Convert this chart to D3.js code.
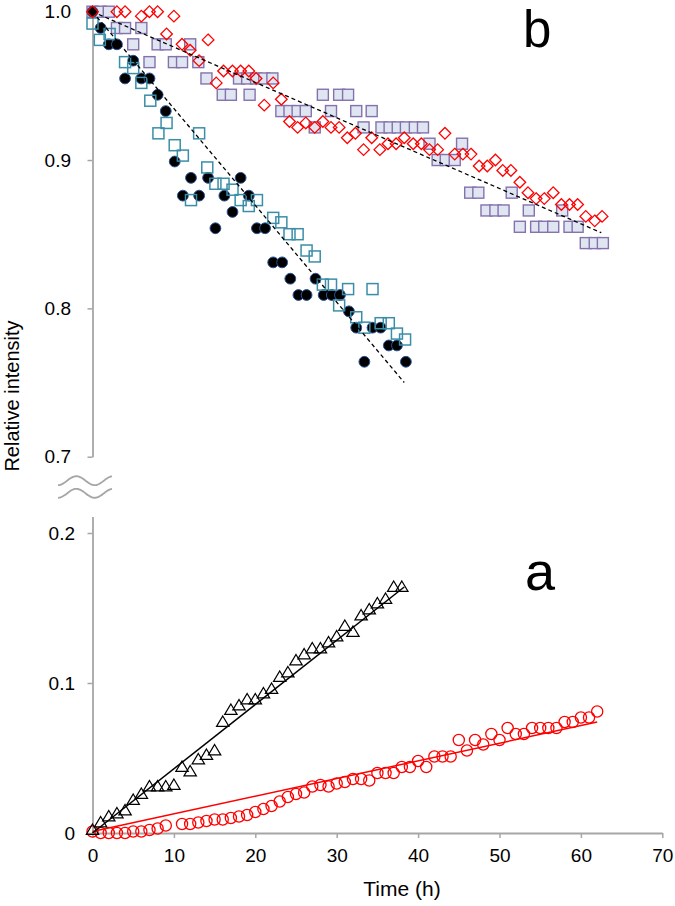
<!DOCTYPE html>
<meta charset='utf-8'>
<style>
  body { margin: 0; background: #fff; }
  svg text { font-family: 'Liberation Sans', Arial, sans-serif; fill: #000; }
</style>
<svg width='675' height='906'></svg>
<script src='https://cdn.jsdelivr.net/npm/d3@7'></script>
<script>
  // ---- panel b (top): relative intensity, decreasing ----
  var circTimes = [0,1,2,3,4,5,6,7,8,9,10.1,11.1,12.1,13.1,14.2,15.1,16.2,17.2,18.2,19.2,20.2,21.2,22.2,23.3,24.3,25.3,26.3,27.4,28.4,29.4,30.4,31.5,32.4,33.4,34.4,35.4,36.4,37.4,38.5];
  var circVals  = [1.000,0.989,0.978,0.978,0.955,0.967,0.955,0.955,0.944,0.933,0.899,0.876,0.888,0.876,0.888,0.854,0.876,0.865,0.888,0.876,0.854,0.854,0.831,0.831,0.820,0.809,0.809,0.820,0.809,0.809,0.809,0.798,0.787,0.764,0.787,0.787,0.775,0.775,0.764];

  var tealTimes = [0,0.9,2.1,4,5,6,7.1,8.1,9.1,10.1,11.1,12.1,13.1,14.1,15.1,16.1,17.2,18.2,19.2,20.2,22.2,23.2,24.2,25.2,26.3,27.3,28.3,29.3,30.3,31.4,32.4,33.4,34.4,35.4,36.4,37.4,38.4];
  var tealVals  = [0.992,0.981,0.985,0.966,0.962,0.952,0.940,0.918,0.925,0.910,0.903,0.873,0.918,0.895,0.884,0.884,0.880,0.873,0.869,0.873,0.861,0.858,0.850,0.850,0.839,0.835,0.816,0.816,0.802,0.813,0.794,0.787,0.813,0.790,0.790,0.783,0.779];

  var lavTimes = [0,1,2,3,4,5,6,7,8,9,10,11,12,13,14,16,17,18,19,19.3,20.1,21.1,22.1,23.2,24.2,25.2,26.2,27.3,28.3,29.3,30.3,31.4,32.4,33.3,34.3,35.5,36.5,37.5,38.5,39.6,40.6,41.4,42.4,43.4,44.5,45.4,46.4,47.4,48.4,49.5,50.5,51.5,52.5,53.6,54.5,55.5,56.6,57.7,58.6,59.6,60.6,61.7,62.7];
  var lavVals  = [1.0,1.0,1.0,0.989,0.989,0.978,0.989,0.966,0.978,0.978,0.966,0.966,0.978,0.966,0.955,0.944,0.944,0.955,0.955,0.944,0.955,0.955,0.955,0.933,0.933,0.933,0.933,0.922,0.944,0.933,0.944,0.944,0.933,0.922,0.933,0.922,0.922,0.922,0.922,0.922,0.922,0.911,0.900,0.900,0.900,0.911,0.878,0.878,0.866,0.866,0.866,0.878,0.855,0.866,0.855,0.855,0.855,0.866,0.855,0.855,0.844,0.844,0.844];

  var diaTimes = [0,3,4,6,7,8,9.1,10,11,12,13.1,14.2,15.2,16.1,17.2,18.2,19.2,20.1,21.1,22.2,23.2,24.2,25.2,26.2,27.3,28.3,29.3,30.3,31.3,32.3,33.3,34.3,35.3,36.3,37.3,38.3,39.4,40.4,41.4,42.4,43.3,44.5,45.5,46.5,47.5,48.5,49.5,50.4,51.4,52.5,53.5,54.5,55.5,56.6,57.6,58.6,59.6,60.6,61.7,62.6];
  var diaVals  = [1.0,1.0,1.0,0.997,1.0,1.0,0.985,0.997,0.978,0.974,0.967,0.981,0.952,0.960,0.960,0.960,0.960,0.955,0.937,0.952,0.941,0.926,0.922,0.925,0.922,0.926,0.922,0.922,0.915,0.918,0.907,0.915,0.907,0.911,0.911,0.915,0.911,0.911,0.907,0.907,0.918,0.904,0.904,0.904,0.896,0.896,0.900,0.893,0.893,0.885,0.878,0.874,0.874,0.878,0.870,0.870,0.870,0.862,0.859,0.862];

  var fitFastT = [0, 38.3], fitFastV = [1.0, 0.750];
  var fitSlowT = [0, 62.5], fitSlowV = [1.0, 0.851];

  // ---- panel a (bottom): increasing ----
  var triTimes = d3.range(0, 39);
  var triVals  = [0.002,0.007,0.011,0.013,0.015,0.022,0.026,0.031,0.031,0.031,0.032,0.044,0.041,0.049,0.052,0.055,0.074,0.082,0.085,0.089,0.089,0.093,0.096,0.104,0.107,0.115,0.119,0.123,0.123,0.127,0.131,0.138,0.134,0.145,0.149,0.153,0.156,0.164,0.164];

  var ringTimes = [0,1,2,3,4,5,6,7,8,9,11,12,13,14,15,16,17,18,19,20,21,22,23,24,25,26,27,28,29,30,31,32,33,34,35,36,37,38,39,40,41,42,43,44,45,46,47,48,49,50,51,52,53,54,55,56,57,58,59,60,61,62];
  var ringVals  = [0.001,0.000,0.000,0.000,0.000,0.001,0.001,0.002,0.003,0.005,0.006,0.006,0.007,0.008,0.009,0.009,0.010,0.011,0.012,0.014,0.016,0.018,0.021,0.024,0.026,0.027,0.031,0.032,0.031,0.033,0.034,0.036,0.036,0.035,0.040,0.040,0.040,0.044,0.044,0.048,0.044,0.051,0.051,0.051,0.062,0.055,0.062,0.059,0.066,0.062,0.070,0.066,0.066,0.070,0.070,0.070,0.070,0.074,0.074,0.077,0.077,0.081];

  var fitTriT = [0, 38.3], fitTriV = [0, 0.164];
  var fitRingT = [0, 62], fitRingV = [0.001, 0.074];

  var xTicks = d3.range(0, 71, 10);
  var topTicks = [0.7, 0.8, 0.9, 1.0];
  var botTicks = [0, 0.1, 0.2];

  var svg = d3.select('svg');
  var grey = '#a6a6a6';

  var x = d3.scaleLinear().domain([0, 70]).range([92.5, 662.3]);
  var yTop = d3.scaleLinear().domain([0.7, 1.0]).range([456.7, 11.7]);
  var yBot = d3.scaleLinear().domain([0, 0.211]).range([833, 516.5]);

  function zip(t, v) { return t.map((d, i) => ({t: d, v: v[i]})); }

  function styleAxis(g) {
    g.select('.domain').attr('stroke', grey).attr('stroke-width', 1.8);
    g.selectAll('.tick line').attr('stroke', grey).attr('stroke-width', 1.5);
    g.selectAll('.tick text').attr('font-size', 19).attr('fill', '#000')
      .attr('font-family', "'Liberation Sans', Arial, sans-serif");
  }

  // axes
  svg.append('g').attr('transform', 'translate(92.5,0)')
    .call(d3.axisLeft(yTop).tickValues(topTicks).tickFormat(d3.format('.1f'))
      .tickSize(5).tickSizeOuter(0).tickPadding(16.5))
    .call(styleAxis);

  svg.append('g').attr('transform', 'translate(92.5,0)')
    .call(d3.axisLeft(yBot).tickValues(botTicks).tickFormat(d => d === 0 ? '0' : d3.format('.1f')(d))
      .tickSize(5).tickSizeOuter(0).tickPadding(12.5))
    .call(styleAxis);

  svg.append('g').attr('transform', 'translate(0,833)')
    .call(d3.axisBottom(x).tickValues(xTicks).tickSize(5).tickSizeOuter(0).tickPadding(11))
    .call(styleAxis);

  // axis break marks
  var wave = d3.line().curve(d3.curveBasis);
  [480.7, 493.3].forEach(function(cy) {
    var pts = d3.range(0, 55, 1).map(function(i) {
      return [58 + i, cy + 4.5 * Math.cos(2 * Math.PI * i / 36.7)];
    });
    svg.append('path').attr('d', wave(pts))
      .attr('fill', 'none').attr('stroke', grey).attr('stroke-width', 1.8);
  });

  // axis titles
  svg.append('text').attr('x', 402).attr('y', 896).attr('text-anchor', 'middle')
    .attr('font-size', 21).text('Time (h)');
  svg.append('text').attr('transform', 'translate(19,396) rotate(-90)')
    .attr('text-anchor', 'middle').attr('font-size', 20).text('Relative intensity');

  svg.append('text').attr('x', 523).attr('y', 47).attr('font-size', 51).text('b');
  svg.append('text').attr('x', 525).attr('y', 590).attr('font-size', 54).text('a');

  // ---- top markers ----
  var gTop = svg.append('g');
  var sq = 11;

  gTop.selectAll('rect.lav').data(zip(lavTimes, lavVals)).enter().append('rect')
    .attr('class', 'lav')
    .attr('x', d => x(d.t) - sq / 2).attr('y', d => yTop(d.v) - sq / 2)
    .attr('width', sq).attr('height', sq)
    .attr('fill', '#dfe5f1').attr('stroke', '#8472ad').attr('stroke-width', 1.4);

  gTop.selectAll('circle.blk').data(zip(circTimes, circVals)).enter().append('circle')
    .attr('class', 'blk')
    .attr('cx', d => x(d.t)).attr('cy', d => yTop(d.v)).attr('r', 5.4)
    .attr('fill', '#000').attr('stroke', '#2a5396').attr('stroke-width', 1);

  gTop.selectAll('rect.teal').data(zip(tealTimes, tealVals)).enter().append('rect')
    .attr('class', 'teal')
    .attr('x', d => x(d.t) - sq / 2).attr('y', d => yTop(d.v) - sq / 2)
    .attr('width', sq).attr('height', sq)
    .attr('fill', 'none').attr('stroke', '#3b8ea8').attr('stroke-width', 1.5);

  gTop.selectAll('path.dia').data(zip(diaTimes, diaVals)).enter().append('path')
    .attr('class', 'dia')
    .attr('transform', d => 'translate(' + x(d.t) + ',' + yTop(d.v) + ')')
    .attr('d', 'M0,-5.8L5.8,0L0,5.8L-5.8,0Z')
    .attr('fill', 'none').attr('stroke', '#ff0000').attr('stroke-width', 1.3);

  var lineTop = d3.line().x(d => x(d.t)).y(d => yTop(d.v));
  [[fitFastT, fitFastV], [fitSlowT, fitSlowV]].forEach(function(f) {
    gTop.append('path').attr('d', lineTop(zip(f[0], f[1])))
      .attr('fill', 'none').attr('stroke', '#000').attr('stroke-width', 1.3)
      .attr('stroke-dasharray', '4,3');
  });

  // ---- bottom markers ----
  var gBot = svg.append('g');
  var lineBot = d3.line().x(d => x(d.t)).y(d => yBot(d.v));

  gBot.selectAll('circle.ring').data(zip(ringTimes, ringVals)).enter().append('circle')
    .attr('class', 'ring')
    .attr('cx', d => x(d.t)).attr('cy', d => yBot(d.v)).attr('r', 5.6)
    .attr('fill', 'none').attr('stroke', '#ff0000').attr('stroke-width', 1.3);

  gBot.selectAll('path.tri').data(zip(triTimes, triVals)).enter().append('path')
    .attr('class', 'tri')
    .attr('transform', d => 'translate(' + x(d.t) + ',' + yBot(d.v) + ')')
    .attr('d', 'M0,-6L6.2,4.4L-6.2,4.4Z')
    .attr('fill', 'none').attr('stroke', '#000').attr('stroke-width', 1.2);

  gBot.append('path').attr('d', lineBot(zip(fitRingT, fitRingV)))
    .attr('fill', 'none').attr('stroke', '#ff0000').attr('stroke-width', 1.5);
  gBot.append('path').attr('d', lineBot(zip(fitTriT, fitTriV)))
    .attr('fill', 'none').attr('stroke', '#000').attr('stroke-width', 1.5);
</script>
